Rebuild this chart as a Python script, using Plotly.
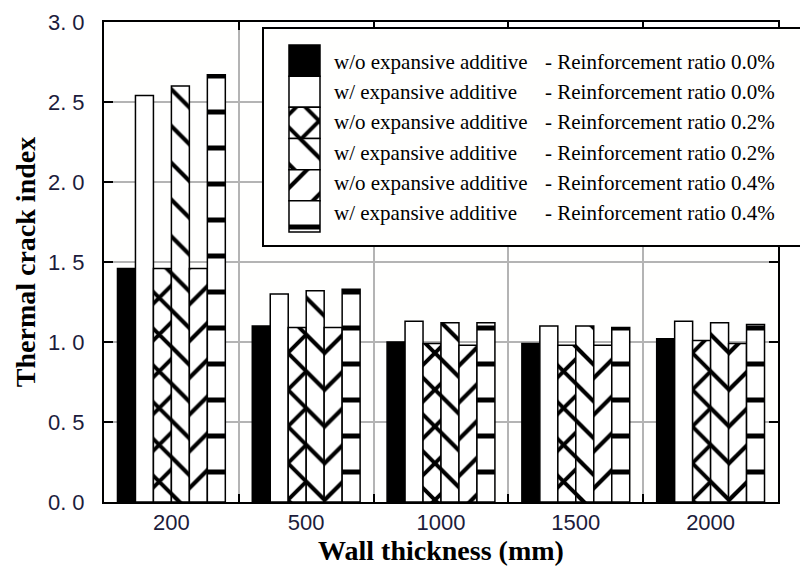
import plotly.graph_objects as go

# ---------------- data ----------------
categories = ["200", "500", "1000", "1500", "2000"]
wo_00 = [1.46, 1.10, 1.00, 0.99, 1.02]
w_00 = [2.54, 1.30, 1.13, 1.10, 1.13]
wo_02 = [1.46, 1.09, 0.99, 0.98, 1.01]
w_02 = [2.60, 1.32, 1.12, 1.10, 1.12]
wo_04 = [1.46, 1.09, 0.98, 0.98, 0.99]
w_04 = [2.67, 1.33, 1.12, 1.09, 1.11]

additive_labels = ["w/o expansive additive", "w/ expansive additive",
                   "w/o expansive additive", "w/ expansive additive",
                   "w/o expansive additive", "w/ expansive additive"]
ratio_labels = ["- Reinforcement ratio 0.0%", "- Reinforcement ratio 0.0%",
                "- Reinforcement ratio 0.2%", "- Reinforcement ratio 0.2%",
                "- Reinforcement ratio 0.4%", "- Reinforcement ratio 0.4%"]
series = [wo_00, w_00, wo_02, w_02, wo_04, w_04]

y_tickvals = [0, 0.5, 1.0, 1.5, 2.0, 2.5, 3.0]
y_ticktext = ["0. 0", "0. 5", "1. 0", "1. 5", "2. 0", "2. 5", "3. 0"]

# ---------------- styles ----------------
fills = ["black", "white", "white", "white", "white", "white"]
shapes_ = ["", "", "x", "\\", "/", "-"]
psize = [10, 10, 26, 26, 26, 36]
psolid = [0.3, 0.3, 0.28, 0.16, 0.16, 0.14]

SERIF = "Liberation Serif, Times New Roman, serif"
SANS = "Liberation Sans, Arial, sans-serif"
TICKCOL = "#1c1c3c"


def marker_style(i):
    return dict(color=fills[i], line=dict(color="black", width=1.5),
                pattern=dict(shape=shapes_[i], size=psize[i], solidity=psolid[i],
                             fgcolor="black", bgcolor=fills[i], fillmode="replace",
                             fgopacity=1))


fig = go.Figure()
for i, vals in enumerate(series):
    fig.add_trace(go.Bar(
        x=categories, y=vals,
        name=additive_labels[i] + " " + ratio_labels[i],
        marker=marker_style(i),
        showlegend=False, xaxis="x", yaxis="y"))

# legend swatches drawn in an inset axis (one unit-long bar per series)
rows = list(range(len(additive_labels)))
for r in rows:
    fig.add_trace(go.Bar(
        y=[r], x=[1], orientation="h", width=1, offset=-0.5,
        marker=marker_style(r),
        showlegend=False, hoverinfo="skip", xaxis="x2", yaxis="y2"))

annotations = []
for r in rows:
    ty = 0.045 + 0.969 * r
    annotations.append(dict(x=1.39, y=ty, xref="x2", yref="y2", text=additive_labels[r],
                            showarrow=False, xanchor="left", yanchor="middle",
                            font=dict(family=SERIF, size=21, color="black")))
    annotations.append(dict(x=8.2, y=ty, xref="x2", yref="y2", text=ratio_labels[r],
                            showarrow=False, xanchor="left", yanchor="middle",
                            font=dict(family=SERIF, size=21, color="black")))

fig.update_layout(
    width=800, height=575,
    margin=dict(l=104, r=0, t=22, b=73),
    paper_bgcolor="white", plot_bgcolor="#fffffe",
    barmode="group", bargap=0.2, bargroupgap=0,
    annotations=annotations,
    xaxis=dict(domain=[0, 674 / 696], type="category", tickson="boundaries",
               showgrid=True, gridcolor="#b4b4b4", gridwidth=1.5,
               ticks="inside", ticklen=8, tickwidth=1.5, tickcolor="black",
               showline=True, linecolor="black", linewidth=2, mirror="ticks",
               tickfont=dict(family=SANS, size=22, color=TICKCOL),
               ticklabelstandoff=0,
               title=dict(text="<b>Wall thickness (mm)</b>", standoff=2,
                          font=dict(family=SERIF, size=28, color="black"))),
    yaxis=dict(domain=[0, 1], range=[0, 3], tickvals=y_tickvals, ticktext=y_ticktext,
               showgrid=True, gridcolor="#b4b4b4", gridwidth=1.5, zeroline=False,
               ticks="inside", ticklen=9, tickwidth=1.5, tickcolor="black",
               showline=True, linecolor="black", linewidth=2, mirror="ticks",
               tickfont=dict(family=SANS, size=22, color=TICKCOL),
               ticklabelstandoff=13,
               title=dict(text="<b>Thermal crack index</b>", standoff=4,
                          font=dict(family=SERIF, size=28, color="black"))),
    xaxis2=dict(domain=[(264 - 104) / 696, 1], anchor="y2", range=[-0.806, 16.48],
                showgrid=False, zeroline=False, showticklabels=False, ticks="",
                showline=True, linecolor="black", linewidth=2, mirror=True,
                fixedrange=True),
    yaxis2=dict(domain=[(502 - 245) / 480, (502 - 29) / 480], anchor="x2",
                range=[5.917, -1.013],
                showgrid=False, zeroline=False, showticklabels=False, ticks="",
                showline=True, linecolor="black", linewidth=2, mirror=False,
                fixedrange=True),
)

fig.write_html("out.html")
